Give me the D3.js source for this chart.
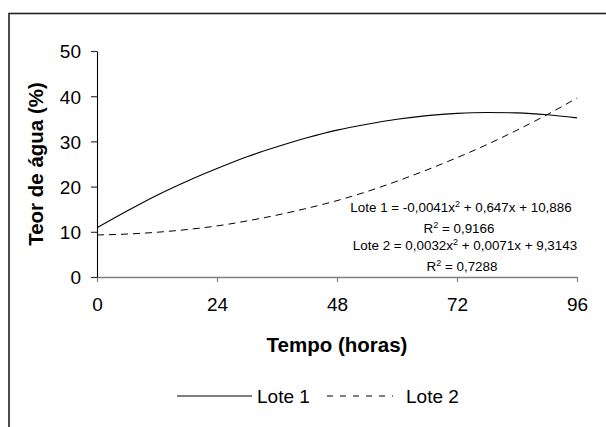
<!DOCTYPE html>
<html>
<head>
<meta charset="utf-8">
<script src="https://cdn.jsdelivr.net/npm/d3@7"></script>
<style>
  body { margin: 0; background: #fff; }
  svg { display: block; font-family: "Liberation Sans", Arial, sans-serif; }
</style>
</head>
<body>
<div id="chart"></div>
<script>
'use strict';

// hours sampled along the trend lines
let horas = [0, 6, 12, 18, 24, 30, 36, 42, 48, 54, 60, 66, 72, 78, 84, 90, 96];
// values (%)
let lote1 = [10.9, 14.6, 18.1, 21.2, 24.0, 26.6, 28.8, 30.8, 32.5, 33.8, 34.9, 35.7, 36.2, 36.4, 36.3, 35.9, 35.2];
let lote2 = [9.3, 9.5, 9.9, 10.5, 11.3, 12.4, 13.7, 15.2, 16.9, 18.9, 21.2, 23.7, 26.4, 29.3, 32.5, 35.9, 39.6];

let xTicks = [0, 24, 48, 72, 96];
let yTicks = [0, 10, 20, 30, 40, 50];

let equacoes = [
    {pre: 'Lote 1 = -0,0041x', post: ' + 0,647x + 10,886'},
    {pre: 'R', post: ' = 0,9166'},
    {pre: 'Lote 2 = 0,0032x', post: ' + 0,0071x + 9,3143'},
    {pre: 'R', post: ' = 0,7288'}
];

let width = 606, height = 427;
let margin = {top: 51, right: 29, bottom: 150, left: 97};

let svg = d3.select('#chart').append('svg')
    .attr('width', width)
    .attr('height', height);

// outer frame (runs past the right and bottom edges)
svg.append('rect')
    .attr('x', 9).attr('y', 13.5)
    .attr('width', 640).attr('height', 460)
    .attr('fill', 'none')
    .attr('stroke', '#222')
    .attr('stroke-width', 1.6);

let x = d3.scaleLinear().domain([0, 96]).range([margin.left, width - margin.right]);
let y = d3.scaleLinear().domain([0, 50]).range([height - margin.bottom, margin.top]);

// x axis
let xAxis = svg.append('g')
    .attr('transform', 'translate(0,' + y(0) + ')')
    .call(d3.axisBottom(x).tickValues(xTicks).tickSize(5).tickPadding(16).tickSizeOuter(0));
xAxis.select('.domain').attr('stroke', '#808080').attr('stroke-width', 1.6);
xAxis.selectAll('.tick line').attr('stroke', '#808080').attr('stroke-width', 1.2);
xAxis.selectAll('.tick text')
    .attr('font-size', 19).attr('fill', '#000')
    .attr('font-family', '"Liberation Sans", Arial, sans-serif');

// y axis
let yAxis = svg.append('g')
    .attr('transform', 'translate(' + x(0) + ',0)')
    .call(d3.axisLeft(y).tickValues(yTicks).tickSize(6).tickPadding(10).tickSizeOuter(0));
yAxis.select('.domain').attr('stroke', '#000').attr('stroke-width', 1.1);
yAxis.selectAll('.tick line').attr('stroke', '#333').attr('stroke-width', 1.2);
yAxis.selectAll('.tick text')
    .attr('font-size', 19).attr('fill', '#000').attr('dy', '0.36em')
    .attr('font-family', '"Liberation Sans", Arial, sans-serif');

// titles
svg.append('text')
    .attr('x', 337).attr('y', 352)
    .attr('text-anchor', 'middle')
    .attr('font-size', 20.5).attr('font-weight', 'bold')
    .text('Tempo (horas)');

svg.append('text')
    .attr('transform', 'translate(43,164) rotate(-90)')
    .attr('text-anchor', 'middle')
    .attr('font-size', 20.5).attr('font-weight', 'bold')
    .text('Teor de água (%)');

// curves
let line = d3.line()
    .x(d => x(d[0]))
    .y(d => y(d[1]))
    .curve(d3.curveMonotoneX);

svg.append('path')
    .datum(horas.map((h, i) => [h, lote1[i]]))
    .attr('d', line)
    .attr('fill', 'none')
    .attr('stroke', '#000')
    .attr('stroke-width', 1.1);

svg.append('path')
    .datum(horas.map((h, i) => [h, lote2[i]]))
    .attr('d', line)
    .attr('fill', 'none')
    .attr('stroke', '#000')
    .attr('stroke-width', 1)
    .attr('stroke-dasharray', '7,5');

// regression labels
let eqY = [212, 233, 250, 271];
let eqX = [461, 459, 465, 462];
equacoes.forEach(function(e, i) {
    let t = svg.append('text')
        .attr('x', eqX[i]).attr('y', eqY[i])
        .attr('text-anchor', 'middle')
        .attr('font-size', 13.4)
        .attr('fill', '#000');
    t.append('tspan').text(e.pre);
    t.append('tspan').attr('font-size', 9).attr('dy', -5).text('2');
    t.append('tspan').attr('dy', 5).text(e.post);
});

// legend
let legend = svg.append('g');
legend.append('line')
    .attr('x1', 177).attr('x2', 252).attr('y1', 396).attr('y2', 396)
    .attr('stroke', '#000').attr('stroke-width', 1);
legend.append('text')
    .attr('x', 257).attr('y', 403)
    .attr('font-size', 19)
    .text('Lote 1');
legend.append('line')
    .attr('x1', 327).attr('x2', 393).attr('y1', 396).attr('y2', 396)
    .attr('stroke', '#000').attr('stroke-width', 1)
    .attr('stroke-dasharray', '6,7');
legend.append('text')
    .attr('x', 406).attr('y', 403)
    .attr('font-size', 19)
    .text('Lote 2');
</script>
</body>
</html>
